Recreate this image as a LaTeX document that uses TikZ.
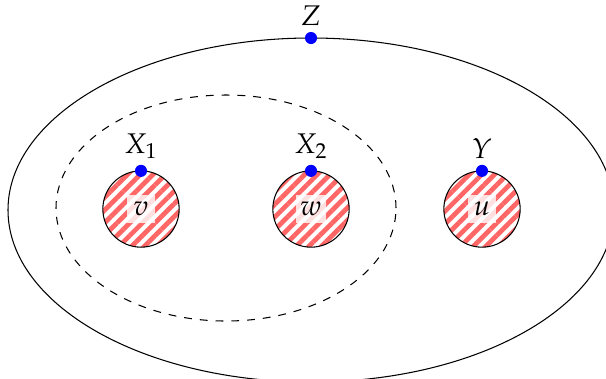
\documentclass[tikz,border=0pt]{standalone}
\usepackage{mathpazo}
\usetikzlibrary{patterns.meta}

\tikzset{
  region/.style={circle, draw, thin, minimum size=29pt, inner sep=0pt, outer sep=0pt,
    pattern={Lines[angle=45, distance=3.4pt, line width=1.8pt]}, pattern color=red!60},
  tag/.style={fill=white, fill opacity=0.8, text opacity=1, inner sep=1.5pt, minimum size=11pt},
  dot/.style={circle, fill=blue, inner sep=0pt, minimum size=4.6pt},
}

\begin{document}
\begin{tikzpicture}[x=0.38pt, y=0.38pt, font=\fontsize{10.8}{13}\selectfont]
        \useasboundingbox (0,0) rectangle (606,378);

        % Outer and inner separators
        \draw[thin] (311,168) ellipse [x radius=303, y radius=172];
        \draw[thin, dashed] (226,170) ellipse [x radius=170, y radius=113];

        % Regions
        \foreach \name/\x in {v/141, w/311, u/482} {
            \node[region] (\name) at (\x,169) {};
            \node[tag] (t\name) at (\name) {$\name$};
        }

        % Points on the boundaries
        \node[dot, label={[label distance=-1.5pt]above:$X_1$}] (x1) at (v.north) {};
        \node[dot, label={[label distance=-1.5pt]above:$X_2$}] (x2) at (w.north) {};
        \node[dot, label={[label distance=-1.5pt]above:$Y$}] (y) at (u.north) {};
        \node[dot, label={[label distance=-1.5pt]above:$Z$}] (z) at (311,340) {};

    \end{tikzpicture}
\end{document}
